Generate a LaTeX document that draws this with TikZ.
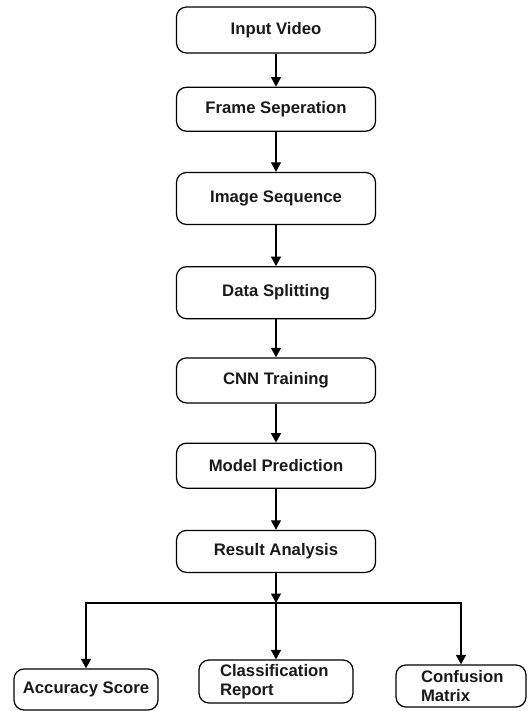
\documentclass[tikz,border=0pt]{standalone}
\usepackage{fontspec}
\setmainfont{Liberation Sans}
\usepackage{tikz}
\usetikzlibrary{positioning, arrows.meta}

\tikzset{
    stage/.style={draw, line width=0.7pt, rounded corners=0.2cm, minimum width=3.98cm,
        inner sep=2pt, text=black!90, font=\fontsize{9.5}{11}\selectfont\bfseries},
    flow/.style={draw, line width=0.7pt, -{Triangle[length=0.19cm, width=0.2cm]}}
}

\begin{document}
\begin{tikzpicture}
        \useasboundingbox (0,0) rectangle (10.6,-14.22);

        \node[stage, minimum height=0.92cm](input) at (5.52,-0.6){Input Video};
        \node[stage, minimum height=0.88cm](frames)[below = 0.66cm of input]{Frame Seperation};
        \node[stage, minimum height=1.04cm](images)[below = 0.8cm of frames]{Image Sequence};
        \node[stage, minimum height=1.04cm](split data)[below = 0.82cm of images]{Data Splitting};
        \node[stage, minimum height=0.9cm](cnn)[below = 0.76cm of split data]{CNN Training};
        \node[stage, minimum height=0.9cm](predict)[below = 0.78cm of cnn]{Model Prediction};
        \node[stage, minimum height=0.84cm](result)[below = 0.82cm of predict]{Result Analysis};

        \coordinate (branch) at (5.52,-12.06);

        \node[stage, minimum height=0.82cm, minimum width=2.88cm](accuracy) at (1.72,-13.79){Accuracy Score};
        \node[stage, minimum height=0.86cm, minimum width=3.08cm, text width=2.24cm, inner xsep=0.42cm,
            align=left](report) at (5.52,-13.63){Classification\\Report};
        \node[stage, minimum height=0.84cm, minimum width=2.6cm, text width=1.6cm, inner xsep=0.5cm,
            align=left](matrix) at (9.22,-13.72){Confusion\\Matrix};

        \path[flow]
        (input) edge (frames)
        (frames) edge (images)
        (images) edge (split data)
        (split data) edge (cnn)
        (cnn) edge (predict)
        (predict) edge (result);

        \draw[flow] (result) -- (branch);
        \draw[flow] (branch) -- (report);
        \draw[flow] (branch) -| (accuracy);
        \draw[flow] (branch) -| (matrix);
    \end{tikzpicture}
\end{document}
